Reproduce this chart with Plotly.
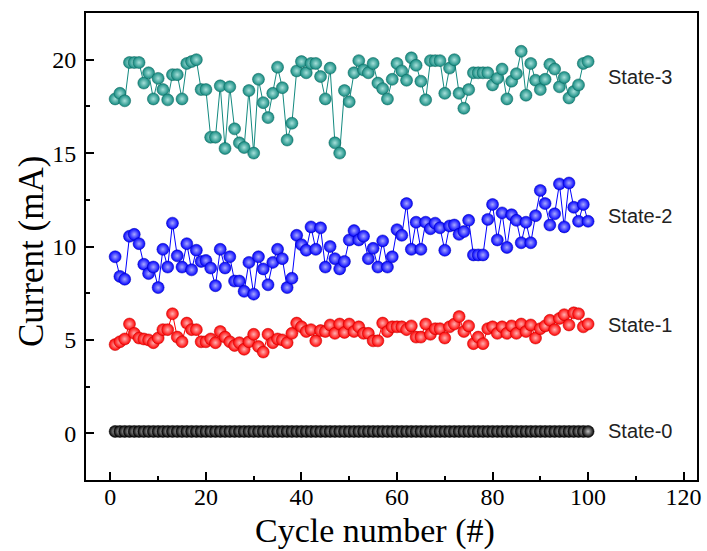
import plotly.graph_objects as go

cycles = list(range(1, 101))

state0 = [0.1, 0.1, 0.1, 0.1, 0.1, 0.1, 0.1, 0.1, 0.1, 0.1,
          0.1, 0.1, 0.1, 0.1, 0.1, 0.1, 0.1, 0.1, 0.1, 0.1,
          0.1, 0.1, 0.1, 0.1, 0.1, 0.1, 0.1, 0.1, 0.1, 0.1,
          0.1, 0.1, 0.1, 0.1, 0.1, 0.1, 0.1, 0.1, 0.1, 0.1,
          0.1, 0.1, 0.1, 0.1, 0.1, 0.1, 0.1, 0.1, 0.1, 0.1,
          0.1, 0.1, 0.1, 0.1, 0.1, 0.1, 0.1, 0.1, 0.1, 0.1,
          0.1, 0.1, 0.1, 0.1, 0.1, 0.1, 0.1, 0.1, 0.1, 0.1,
          0.1, 0.1, 0.1, 0.1, 0.1, 0.1, 0.1, 0.1, 0.1, 0.1,
          0.1, 0.1, 0.1, 0.1, 0.1, 0.1, 0.1, 0.1, 0.1, 0.1,
          0.1, 0.1, 0.1, 0.1, 0.1, 0.1, 0.1, 0.1, 0.1, 0.1]

state1 = [4.75, 4.9, 5.05, 5.85, 5.35, 5.1, 5.05, 5.0, 4.85, 5.1,
          5.55, 5.55, 6.4, 5.15, 4.9, 5.9, 5.55, 5.55, 4.9, 4.9,
          5.05, 4.85, 5.45, 5.15, 4.9, 4.7, 4.85, 4.5, 4.9, 5.3,
          4.65, 4.35, 5.3, 4.85, 5.05, 5.0, 4.85, 5.35, 5.9, 5.7,
          5.45, 5.55, 4.95, 5.5, 5.45, 5.8, 5.35, 5.85, 5.4, 5.85,
          5.45, 5.7, 5.35, 5.35, 4.95, 4.95, 5.9, 5.45, 5.7, 5.7,
          5.7, 5.55, 5.75, 5.15, 5.15, 5.85, 5.3, 5.6, 5.6, 5.1,
          5.7, 5.85, 6.25, 5.45, 5.75, 4.8, 5.15, 4.8, 5.6, 5.7,
          5.35, 5.7, 5.35, 5.75, 5.35, 5.85, 5.45, 5.8, 5.1, 5.6,
          5.75, 6.05, 5.55, 6.15, 6.35, 5.8, 6.45, 6.4, 5.7, 5.85]

state2 = [9.45, 8.4, 8.25, 10.55, 10.65, 10.15, 9.05, 8.55, 8.9, 7.8,
          9.85, 8.9, 11.25, 9.5, 8.9, 10.15, 8.75, 9.8, 9.2, 9.25,
          8.85, 7.9, 9.85, 8.85, 9.45, 8.15, 8.15, 7.6, 9.15, 7.45,
          9.45, 8.8, 7.95, 9.15, 9.85, 9.35, 7.8, 8.3, 10.6, 10.1,
          9.8, 11.05, 9.85, 11.0, 8.9, 10.0, 9.35, 8.8, 9.2, 10.35,
          10.85, 10.35, 10.55, 9.35, 9.9, 8.9, 10.3, 8.9, 9.45, 10.9,
          10.6, 12.3, 9.85, 11.3, 9.85, 11.3, 10.95, 11.25, 11.0, 9.8,
          11.1, 11.15, 10.65, 10.8, 11.4, 9.55, 9.55, 9.55, 11.45, 12.25,
          10.35, 11.8, 9.95, 11.7, 11.4, 10.2, 11.3, 10.2, 11.65, 13.0,
          12.3, 11.15, 11.75, 13.35, 11.05, 13.4, 12.1, 11.35, 12.25, 11.35]

state3 = [17.9, 18.2, 17.8, 19.85, 19.85, 19.85, 18.75, 19.3, 17.9, 19.0,
          18.4, 17.85, 19.2, 19.2, 17.9, 19.8, 19.9, 20.0, 18.4, 18.4,
          15.85, 15.85, 18.6, 15.25, 18.55, 16.3, 15.55, 15.3, 18.35, 15.0,
          18.95, 17.7, 16.9, 18.2, 19.6, 18.5, 15.7, 16.6, 19.4, 19.9,
          19.3, 19.8, 19.8, 19.1, 17.9, 19.55, 15.55, 15.0, 18.35, 17.75,
          19.3, 19.95, 19.45, 19.3, 19.8, 18.75, 18.45, 17.9, 18.95, 19.8,
          19.4, 18.9, 20.1, 19.7, 18.85, 17.85, 19.95, 19.95, 19.95, 18.2,
          19.55, 20.0, 18.2, 17.4, 18.4, 19.3, 19.3, 19.3, 19.3, 18.65,
          19.0, 19.5, 17.9, 18.85, 19.25, 20.45, 18.1, 19.8, 18.9, 18.4,
          18.95, 19.75, 19.5, 18.55, 19.05, 17.95, 18.3, 18.65, 19.8, 19.9]

series_names = ["State-0", "State-1", "State-2", "State-3"]
series_values = [state0, state1, state2, state3]
series_colors = ["#000000", "#ff0000", "#0000ff", "#138a80"]
series_edge = ["#000000", "#c00000", "#0000b0", "#0a625a"]
series_light = ["#bdbdbd", "#ffb0b0", "#a8a8ff", "#a6e0da"]
label_y = [0.1, 5.8, 11.65, 19.1]

x_ticks = [0, 20, 40, 60, 80, 100, 120]
y_ticks = [0, 5, 10, 15, 20]

fig = go.Figure()
for name, vals, col, edge, light in zip(series_names, series_values, series_colors, series_edge, series_light):
    fig.add_trace(go.Scatter(
        x=cycles, y=vals, mode="lines+markers", name=name,
        line=dict(color=col, width=1),
        marker=dict(size=12, color=col,
                    gradient=dict(type="radial", color=light),
                    line=dict(color=edge, width=0.5)),
        showlegend=False,
    ))

for name, yv in zip(series_names, label_y):
    fig.add_annotation(x=103.8, y=yv, text=name, showarrow=False,
                       xanchor="left", yanchor="middle",
                       font=dict(family="Liberation Sans", size=20, color="#222222"))

# axis titles as annotations for precise placement
fig.add_annotation(x=55.4, y=0, xref="x", yref="paper", yshift=-51, yanchor="middle",
                   text="Cycle number (#)", showarrow=False,
                   font=dict(family="Liberation Serif", size=34, color="black"))
fig.add_annotation(x=0, y=9.7, xref="paper", yref="y", xshift=-55, xanchor="center",
                   text="Current (mA)", textangle=-90, showarrow=False,
                   font=dict(family="Liberation Serif", size=35, color="black"))

axis_common = dict(
    showline=True, linecolor="black", linewidth=2, mirror=True,
    ticks="inside", ticklen=8, tickwidth=2, tickcolor="black",
    showgrid=False, zeroline=False, automargin=False,
    tickfont=dict(family="Liberation Serif", size=24, color="black"),
)

fig.update_xaxes(range=[-5.1, 122.8], tickvals=x_ticks, ticklabelstandoff=-6,
                 minor=dict(ticks="inside", ticklen=4, tickwidth=2, tickcolor="black", dtick=10, tick0=0),
                 **axis_common)
fig.update_yaxes(range=[-2.5, 22.5], tickvals=y_ticks, ticklabelstandoff=3,
                 minor=dict(ticks="inside", ticklen=4, tickwidth=2, tickcolor="black", dtick=2.5, tick0=0),
                 **axis_common)

fig.update_layout(
    width=707, height=551,
    margin=dict(l=86, r=10, t=13, b=71),
    paper_bgcolor="white", plot_bgcolor="white",
)

fig.write_html("out.html", config={"displayModeBar": False},
               post_script="document.body.style.margin='0';document.body.style.overflow='hidden';")
